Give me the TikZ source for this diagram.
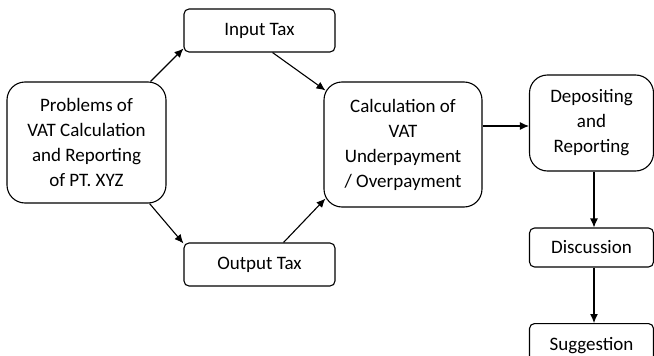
\documentclass[tikz,border=0pt]{standalone}
\usepackage{fontspec}
\setmainfont{Carlito}
\usetikzlibrary{arrows.meta,calc}
\begin{document}
\begin{tikzpicture}[x=1pt,y=-1pt,
  box/.style={draw,line width=1.1pt,rounded corners=#1,inner sep=0pt,align=center,
    font=\fontsize{19pt}{25pt}\selectfont},
  arr/.style={line width=1.1pt,-{Latex[length=9pt,width=8pt]}}]
\useasboundingbox (0,0) rectangle (654,356);
\fill[white] (0,0) rectangle (654,356);
\node[box=18pt,minimum width=159pt,minimum height=121pt] (prob) at (86.5,142.5)
  {Problems of\\VAT Calculation\\and Reporting\\of PT. XYZ};
\node[box=5pt,minimum width=151pt,minimum height=43pt] (in) at (259.5,30.5) {Input Tax};
\node[box=5pt,minimum width=151pt,minimum height=43pt] (out) at (259.5,264.5) {Output Tax};
\node[box=18pt,minimum width=158pt,minimum height=125pt] (calc) at (403,144.5)
  {Calculation of\\VAT\\Underpayment\\/ Overpayment};
\node[box=18pt,minimum width=124pt,minimum height=96pt] (dep) at (591.5,123)
  {Depositing\\and\\Reporting};
\node[box=5pt,minimum width=124pt,minimum height=39pt] (disc) at (591.5,247.5) {Discussion};
\node[box=5pt,minimum width=124pt,minimum height=45pt,anchor=north] (sug) at (591.5,323)
  {\raisebox{-3pt}{Suggestion}};
\coordinate (cd) at ([yshift=-3pt]dep.west);
\draw[arr] ([xshift=-16pt]prob.north east) -- ([yshift=4pt]in.south west);
\draw[arr] ([xshift=-17pt]prob.south east) -- ([yshift=-1pt]out.north west);
\draw[arr] ([xshift=-63pt]in.south east) -- ([shift={(2pt,-9pt)}]calc.north west);
\draw[arr] ([xshift=-52pt]out.north east) -- ([shift={(2pt,9pt)}]calc.south west);
\draw[arr] (calc.east |- cd) -- (cd);
\draw[arr] ([xshift=2.5pt]dep.south) -- ([xshift=2.5pt]disc.north);
\draw[arr] ([xshift=2.5pt]disc.south) -- ([xshift=2.5pt]sug.north);
\end{tikzpicture}
\end{document}
